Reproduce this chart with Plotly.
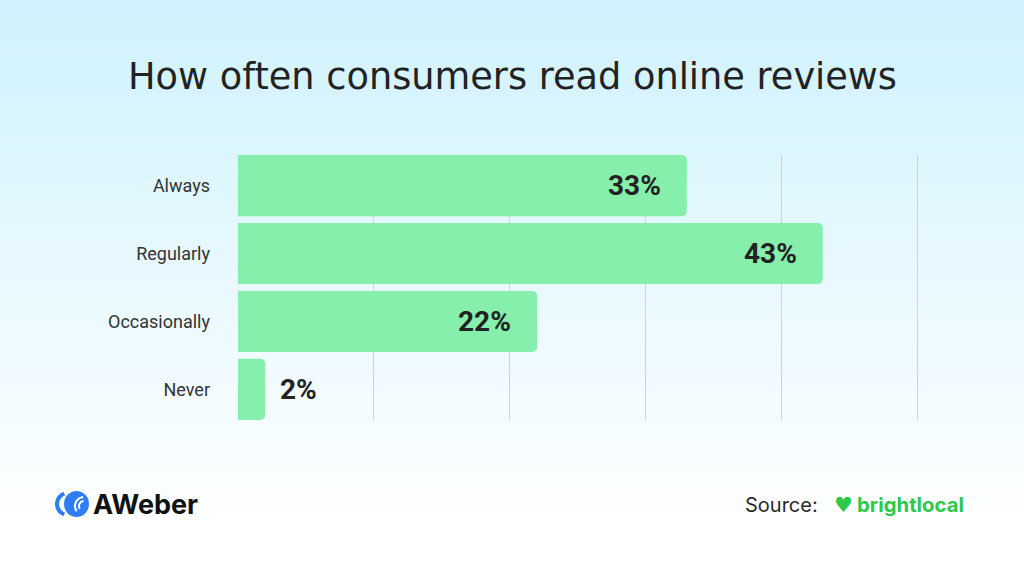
import math
import plotly.graph_objects as go

categories = ["Always", "Regularly", "Occasionally", "Never"]
values = [33, 43, 22, 2]
value_labels = ["33%", "43%", "22%", "2%"]
x_ticks = [0, 10, 20, 30, 40, 50]

W, H = 1024, 576
X_MAX = 50.3
L, T, B = 238, 155, 156
PW = int(round(X_MAX * 13.6))
R = W - L - PW
PH = H - T - B


def px(x):
    return (x - L) / PW


def py(y):
    return (H - B - y) / PH


fig = go.Figure()
fig.add_trace(go.Bar(
    x=values, y=categories, orientation="h",
    marker=dict(color="#86EFAC", line=dict(width=0)),
    hoverinfo="skip",
))

# gradient background stripes
shapes = []
N = 80
top = (207, 242, 254)
bot = (255, 255, 255)
for i in range(N):
    y0 = H * i / N
    y1 = H * (i + 1) / N + 1
    t = min(1.0, (i + 0.5) / N / 0.92)
    c = tuple(int(round(top[k] + (bot[k] - top[k]) * t)) for k in range(3))
    shapes.append(dict(type="rect", xref="paper", yref="paper",
                       x0=px(0), x1=px(W), y0=py(y1), y1=py(y0),
                       fillcolor="rgb(%d,%d,%d)" % c, line=dict(width=0),
                       layer="below"))


def arc_path(cx, cy, r, a0, a1, n=20):
    pts = []
    for j in range(n + 1):
        a = math.radians(a0 + (a1 - a0) * j / n)
        pts.append((px(cx + r * math.cos(a)), py(cy - r * math.sin(a))))
    return "M " + " L ".join("%f,%f" % p for p in pts)


# AWeber icon (approximation)
shapes.append(dict(type="circle", xref="paper", yref="paper",
                   x0=px(64), x1=px(89), y0=py(517), y1=py(491),
                   fillcolor="#2F7DF6", line=dict(width=0)))
shapes.append(dict(type="path", xref="paper", yref="paper",
                   path=arc_path(68, 504, 11, 110, 250),
                   line=dict(color="#2F7DF6", width=4)))
for r in (5, 9):
    shapes.append(dict(type="path", xref="paper", yref="paper",
                       path=arc_path(84, 506, r, 95, 215),
                       line=dict(color="white", width=2)))

annotations = []
for c, v, lab in zip(categories, values, value_labels):
    inside = v >= 10
    annotations.append(dict(x=v, y=c, xref="x", yref="y", text="<b>%s</b>" % lab,
                            showarrow=False,
                            xanchor="right" if inside else "left",
                            xshift=-24 if inside else 13,
                            font=dict(family="Roboto", size=28, color="#222222")))

annotations += [
    dict(x=px(512), y=py(76), xref="paper", yref="paper",
         text="How often consumers read online reviews", showarrow=False,
         xanchor="center", yanchor="middle",
         font=dict(family="DejaVu Sans", size=36.7, color="#222222")),
    dict(x=px(91), y=py(504), xref="paper", yref="paper", text="<b>AWeber</b>",
         showarrow=False, xanchor="left", yanchor="middle",
         font=dict(family="Inter", size=27, color="#111111")),
    dict(x=px(743), y=py(505), xref="paper", yref="paper", text="Source:",
         showarrow=False, xanchor="left", yanchor="middle",
         font=dict(family="Inter", size=20, color="#2a2a2a")),
    dict(x=px(832), y=py(505), xref="paper", yref="paper", text="♥",
         showarrow=False, xanchor="left", yanchor="middle",
         font=dict(family="DejaVu Sans", size=21, color="#2FC94A")),
    dict(x=px(855), y=py(504), xref="paper", yref="paper", text="<b>brightlocal</b>",
         showarrow=False, xanchor="left", yanchor="middle",
         font=dict(family="Inter", size=20.3, color="#2FC94A")),
]

fig.update_layout(
    width=W, height=H,
    margin=dict(l=L, r=R, t=T, b=B, pad=0),
    paper_bgcolor="white", plot_bgcolor="rgba(0,0,0,0)",
    bargap=0.1, barcornerradius=5,
    showlegend=False,
    shapes=shapes, annotations=annotations,
    xaxis=dict(range=[0, X_MAX], tickvals=x_ticks, showticklabels=False,
               showgrid=True, gridcolor="#cfd3d7", gridwidth=1,
               zeroline=False, showline=False, fixedrange=True),
    yaxis=dict(categoryorder="array", categoryarray=categories,
               range=[3.45, -0.45], showgrid=False, zeroline=False,
               ticks="", ticklabelstandoff=27,
               tickfont=dict(family="Roboto", size=18, color="#333333"),
               fixedrange=True),
)

fig.write_html("out.html", config={"displayModeBar": False},
               post_script="document.body.style.margin='0';")
